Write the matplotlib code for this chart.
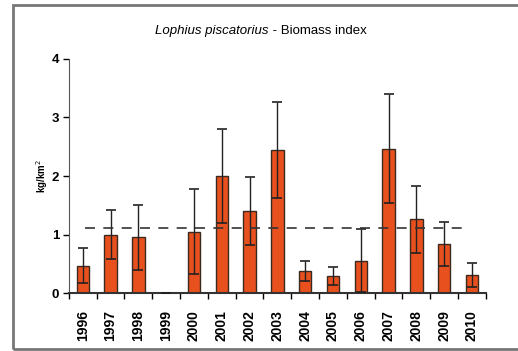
import matplotlib
matplotlib.use("Agg")
import matplotlib.pyplot as plt
import numpy as np
from matplotlib.patches import Rectangle

years = ["1996", "1997", "1998", "1999", "2000", "2001", "2002", "2003",
         "2004", "2005", "2006", "2007", "2008", "2009", "2010"]
biomass = [0.47, 1.0, 0.95, 0.0, 1.05, 2.0, 1.4, 2.45,
           0.38, 0.29, 0.55, 2.47, 1.26, 0.84, 0.31]
errors = [0.3, 0.42, 0.55, 0.0, 0.73, 0.8, 0.58, 0.82,
          0.17, 0.15, 0.54, 0.93, 0.57, 0.38, 0.21]
mean_level = 1.11

plt.rcParams['font.family'] = ['Liberation Sans', 'DejaVu Sans']

fig = plt.figure(figsize=(5.18, 3.51), dpi=100)
ax = fig.add_axes([0.133, 0.165, 0.805, 0.667])

x = np.arange(len(years))
ax.bar(x, biomass, width=0.45, color='#e8501e', edgecolor='#3a2a20', linewidth=1.0, zorder=2)
ax.errorbar(x, biomass, yerr=errors, fmt='none', ecolor='#222222', elinewidth=1.0,
            capsize=3.5, capthick=1.2, zorder=3)
ax.plot([0.07, 13.9], [mean_level, mean_level], linestyle=(0, (6, 5)),
        color='#333333', linewidth=1.2, zorder=4)

ax.set_xlim(-0.5, len(years) - 0.5)
ax.set_ylim(0, 4)
ax.set_yticks([0, 1, 2, 3, 4])
ax.set_yticklabels(["0", "1", "2", "3", "4"], fontsize=9.5, fontweight='bold')
ax.set_xticks(x)
ax.set_xticklabels(years, rotation=90, fontsize=10, fontweight='bold', fontstretch='condensed')
ax.tick_params(axis='x', length=0, pad=12)
ax.set_xticks(np.arange(-0.5, len(years), 1), minor=True)
ax.tick_params(axis='x', which='minor', length=4, width=1, direction='out')
ax.tick_params(axis='y', length=4, width=1, direction='out', pad=3)

for s in ['top', 'right']:
    ax.spines[s].set_visible(False)
ax.spines['left'].set_color('#555555')
ax.spines['bottom'].set_color('#333333')
ax.spines['bottom'].set_linewidth(1.5)

ax.set_ylabel("kg/km$^2$", fontsize=7, fontweight='bold', labelpad=1)

fig.text(0.518, 0.912, "Lophius piscatorius", ha='right', va='center',
         fontsize=9.5, style='italic')
fig.text(0.52, 0.912, " - Biomass index", ha='left', va='center', fontsize=9.5)

fig.patches.append(Rectangle((0.025, 0.005), 1.2, 0.982, transform=fig.transFigure,
                             fill=False, edgecolor='#777777', linewidth=2.0))

fig.savefig("out.png", dpi=100)
